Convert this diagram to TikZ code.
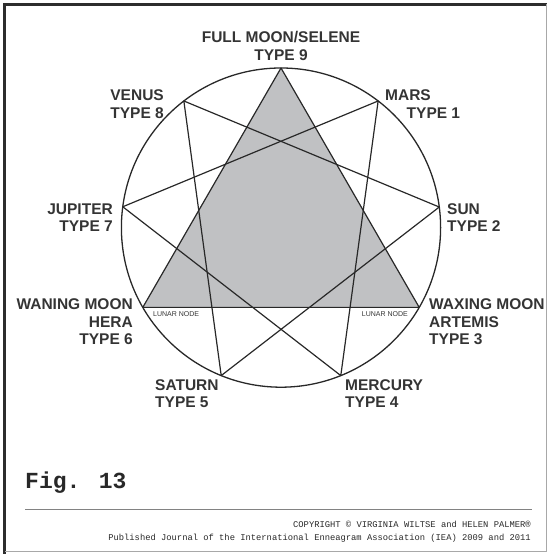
\documentclass[tikz,border=0pt]{standalone}
\usepackage{fontspec}
\setmainfont{Liberation Sans}
\newfontfamily\figmono{Liberation Mono}
\usepackage{tikz}
\usetikzlibrary{calc}
\definecolor{myink}{RGB}{40,40,40}
\definecolor{mylabel}{RGB}{52,52,52}
\definecolor{myshade}{RGB}{192,193,195}
\definecolor{myframe}{RGB}{45,45,45}
\definecolor{myrule}{RGB}{130,130,130}
\tikzset{
  ring/.style={draw=myink, line width=1.3pt},
  chord/.style={draw=myink, line width=1.2pt, line join=round},
  planet/.style={font=\fontsize{15.5}{17.5}\selectfont\bfseries,
    text=mylabel, inner sep=0pt},
  lunar/.style={font=\fontsize{7}{8}\selectfont, text=mylabel, inner sep=0pt},
  credit/.style={font=\figmono\fontsize{8.8}{10}\selectfont, text=myink, inner sep=0pt}
}

\begin{document}
\begin{tikzpicture}[x=1pt, y=1pt]
  \useasboundingbox (0,0) rectangle (549,554);
  % frame
  \draw[myframe, line width=3pt] (4.5,0) -- (4.5,549.5) -- (547,549.5);
  \draw[myrule!70, line width=0.8pt] (546,549.5) -- (546,2.5) -- (4.5,2.5);

  % circle and its nine points
  \coordinate (c) at (281,326.4);
  \draw[ring] (c) circle (159.6);
  \coordinate (p9) at ($(c)+(90:159.6)$);
  \coordinate (p1) at ($(c)+(52.5:159.6)$);
  \coordinate (p2) at ($(c)+(7.4:159.6)$);
  \coordinate (p3) at ($(c)+(-30:159.6)$);
  \coordinate (p4) at ($(c)+(-68:159.6)$);
  \coordinate (p5) at ($(c)+(-112:159.6)$);
  \coordinate (p6) at ($(c)+(-150:159.6)$);
  \coordinate (p7) at ($(c)+(172.5:159.6)$);
  \coordinate (p8) at ($(c)+(127.5:159.6)$);

  % shaded triangle 9-3-6
  \filldraw[chord, fill=myshade] (p9) -- (p3) -- (p6) -- cycle;
  % the other two triangles
  \draw[chord] (p1) -- (p4) -- (p7) -- cycle;
  \draw[chord] (p2) -- (p5) -- (p8) -- cycle;

  % lunar nodes
  \node[lunar, anchor=base west] (ln6) at (153,237.3) {LUNAR NODE};
  \node[lunar, anchor=base east] (ln3) at (408,237.3) {LUNAR NODE};

  % labels (base = last line)
  \node[planet, align=center, anchor=base] (l9) at (281,493.5) {FULL MOON/SELENE\\TYPE 9};
  \node[planet, align=left, anchor=base west] (l1) at (385,435.5) {MARS\\\hspace*{21.5pt}TYPE 1};
  \node[planet, align=left, anchor=base west] (l2) at (447,322) {SUN\\TYPE 2};
  \node[planet, align=left, anchor=base west] (l3) at (429,209) {WAXING MOON\\ARTEMIS\\TYPE 3};
  \node[planet, align=left, anchor=base west] (l4) at (345,146) {MERCURY\\TYPE 4};
  \node[planet, align=left, anchor=base west] (l5) at (155,146) {SATURN\\TYPE 5};
  \node[planet, align=right, anchor=base east] (l6) at (133,209) {WANING MOON\\HERA\\TYPE 6};
  \node[planet, align=right, anchor=base east] (l7) at (113,322) {JUPITER\\TYPE 7};
  \node[planet, align=right, anchor=base east] (l8) at (164,435.5) {VENUS\\TYPE 8};

  % caption and credits
  \node[font=\figmono\bfseries\fontsize{23}{26}\selectfont, text=myink, inner sep=0pt,
    anchor=base west] (fig) at (25,65) {Fig. 13};
  \coordinate (ruleL) at (25,45);
  \coordinate (ruleR) at (532,45);
  \draw[myrule, line width=0.8pt] (ruleL) -- (ruleR);
  \node[credit, anchor=base east] (copy) at (531,27) {COPYRIGHT © VIRGINIA WILTSE and HELEN PALMER®};
  \node[credit, anchor=base east] (pub) at (531,13) {Published Journal of the International Enneagram Association (IEA) 2009 and 2011};
\end{tikzpicture}
\end{document}
